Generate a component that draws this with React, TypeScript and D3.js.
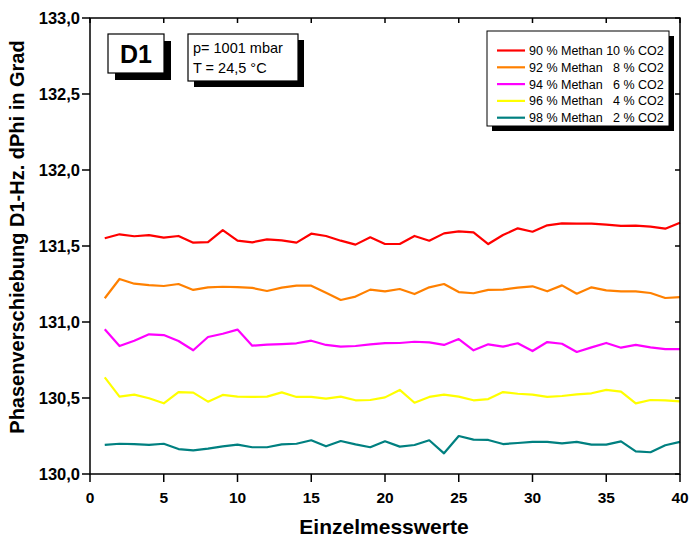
import React from "react";
import * as d3 from "d3";

const xValues: number[] = d3.range(1, 41);
const seriesNames: string[] = [
  "90 % Methan 10 % CO2",
  "92 % Methan   8 % CO2",
  "94 % Methan   6 % CO2",
  "96 % Methan   4 % CO2",
  "98 % Methan   2 % CO2",
];
const seriesColors: string[] = ["#ff0000", "#ff8000", "#ff00ff", "#ffff00", "#008080"];

const red: number[] = [
  131.551, 131.577, 131.564, 131.572, 131.555, 131.566, 131.522, 131.526, 131.605, 131.535,
  131.524, 131.544, 131.537, 131.522, 131.581, 131.566, 131.535, 131.509, 131.557, 131.513,
  131.513, 131.566, 131.535, 131.583, 131.596, 131.590, 131.513, 131.572, 131.616, 131.594,
  131.636, 131.649, 131.647, 131.647, 131.640, 131.632, 131.634, 131.627, 131.614, 131.653,
];
const orange: number[] = [
  131.156, 131.283, 131.252, 131.243, 131.237, 131.250, 131.211, 131.228, 131.232, 131.230,
  131.224, 131.204, 131.226, 131.239, 131.239, 131.193, 131.145, 131.167, 131.213, 131.201,
  131.217, 131.184, 131.228, 131.250, 131.197, 131.189, 131.211, 131.213, 131.226, 131.235,
  131.202, 131.241, 131.186, 131.228, 131.208, 131.202, 131.202, 131.191, 131.158, 131.164,
];
const magenta: number[] = [
  130.952, 130.842, 130.877, 130.919, 130.914, 130.875, 130.814, 130.901, 130.923, 130.950,
  130.844, 130.851, 130.855, 130.860, 130.877, 130.849, 130.838, 130.842, 130.853, 130.861,
  130.862, 130.870, 130.866, 130.849, 130.888, 130.814, 130.853, 130.838, 130.860, 130.809,
  130.868, 130.857, 130.803, 130.833, 130.862, 130.831, 130.849, 130.833, 130.822, 130.822,
];
const yellow: number[] = [
  130.636, 130.509, 130.522, 130.498, 130.465, 130.539, 130.535, 130.476, 130.520, 130.509,
  130.507, 130.509, 130.537, 130.507, 130.507, 130.496, 130.509, 130.485, 130.487, 130.504,
  130.553, 130.469, 130.507, 130.522, 130.509, 130.485, 130.493, 130.539, 130.528, 130.522,
  130.507, 130.513, 130.524, 130.531, 130.553, 130.542, 130.465, 130.487, 130.485, 130.478,
];
const teal: number[] = [
  130.191, 130.199, 130.197, 130.191, 130.199, 130.164, 130.156, 130.167, 130.182, 130.193,
  130.176, 130.176, 130.195, 130.199, 130.222, 130.182, 130.217, 130.195, 130.176, 130.215,
  130.180, 130.191, 130.222, 130.136, 130.250, 130.226, 130.224, 130.197, 130.204, 130.211,
  130.211, 130.202, 130.211, 130.193, 130.193, 130.215, 130.149, 130.143, 130.189, 130.211,
];
const allSeries: number[][] = [red, orange, magenta, yellow, teal];

const xTicks: number[] = [0, 5, 10, 15, 20, 25, 30, 35, 40];
const yTicks: number[] = [130.0, 130.5, 131.0, 131.5, 132.0, 132.5, 133.0];

const W = 691;
const H = 538;
const L = 90, R = 680, T = 18, B = 474;
const FONT = "'Liberation Sans', Arial, sans-serif";

export default function App() {
  const x = d3.scaleLinear().domain([0, 40]).range([L, R]);
  const y = d3.scaleLinear().domain([130, 133]).range([B, T]);
  const line = d3
    .line<number>()
    .x((_, i) => x(xValues[i]))
    .y((d) => y(d));
  const fmt = (v: number) => v.toFixed(1).replace(".", ",");

  const legX = 487, legY = 31, legW = 182, legH = 95;

  return (
    <svg width={W} height={H} style={{ position: "absolute", left: 0, top: 0, fontFamily: FONT }}>
      <rect x={0} y={0} width={W} height={H} fill="#fff" />
      {allSeries.map((s, i) => (
        <path key={i} d={line(s) || ""} fill="none" stroke={seriesColors[i]} strokeWidth={2.2} strokeLinejoin="round" />
      ))}
      {/* frame */}
      <rect x={L} y={T} width={R - L} height={B - T} fill="none" stroke="#000" strokeWidth={1.5} />
      {/* y ticks */}
      {yTicks.map((t) => (
        <g key={t}>
          <line x1={L - 8} x2={L} y1={y(t)} y2={y(t)} stroke="#000" strokeWidth={1.5} />
          <line x1={R - 5} x2={R} y1={y(t)} y2={y(t)} stroke="#000" strokeWidth={1.5} />
          <text x={L - 10} y={y(t)} dy="0.36em" textAnchor="end" fontSize={16.5} fontWeight="bold">
            {fmt(t)}
          </text>
        </g>
      ))}
      {/* x ticks */}
      {xTicks.map((t) => (
        <g key={t}>
          <line x1={x(t)} x2={x(t)} y1={B} y2={B + 8} stroke="#000" strokeWidth={1.5} />
          <line x1={x(t)} x2={x(t)} y1={T} y2={T + 5} stroke="#000" strokeWidth={1.5} />
          <text x={x(t)} y={503} textAnchor="middle" fontSize={15.5} fontWeight="bold">
            {t}
          </text>
        </g>
      ))}
      {/* axis titles */}
      <text x={384} y={534} textAnchor="middle" fontSize={21} fontWeight="bold">
        Einzelmesswerte
      </text>
      <text
        transform={`translate(24, 237) rotate(-90)`}
        textAnchor="middle"
        fontSize={20}
        fontWeight="bold"
      >
        Phasenverschiebung D1-Hz. dPhi in Grad
      </text>
      {/* D1 box */}
      <rect x={115} y={41} width={56} height={39} fill="#000" />
      <rect x={108} y={34} width={56} height={39} fill="#fff" stroke="#000" strokeWidth={1.2} />
      <text x={136} y={54} dy="0.36em" textAnchor="middle" fontSize={25} fontWeight="bold">
        D1
      </text>
      {/* param box */}
      <rect x={194} y={40} width={110} height={47} fill="#000" />
      <rect x={188} y={34} width={110} height={47} fill="#fff" stroke="#000" strokeWidth={1.2} />
      <text x={193} y={53} fontSize={14.5}>p= 1001 mbar</text>
      <text x={193} y={73} fontSize={14.5}>T = 24,5 °C</text>
      {/* legend */}
      <rect x={legX + 5} y={legY + 5} width={legW} height={legH} fill="#000" />
      <rect x={legX} y={legY} width={legW} height={legH} fill="#fff" stroke="#000" strokeWidth={1} />
      {seriesNames.map((n, i) => {
        const yy = legY + 19.5 + i * 16.8;
        return (
          <g key={n}>
            <line x1={497} x2={525} y1={yy} y2={yy} stroke={seriesColors[i]} strokeWidth={2.2} />
            <text x={529} y={yy} dy="0.36em" fontSize={12.5} style={{ whiteSpace: "pre" }}>
              {n}
            </text>
          </g>
        );
      })}
    </svg>
  );
}
